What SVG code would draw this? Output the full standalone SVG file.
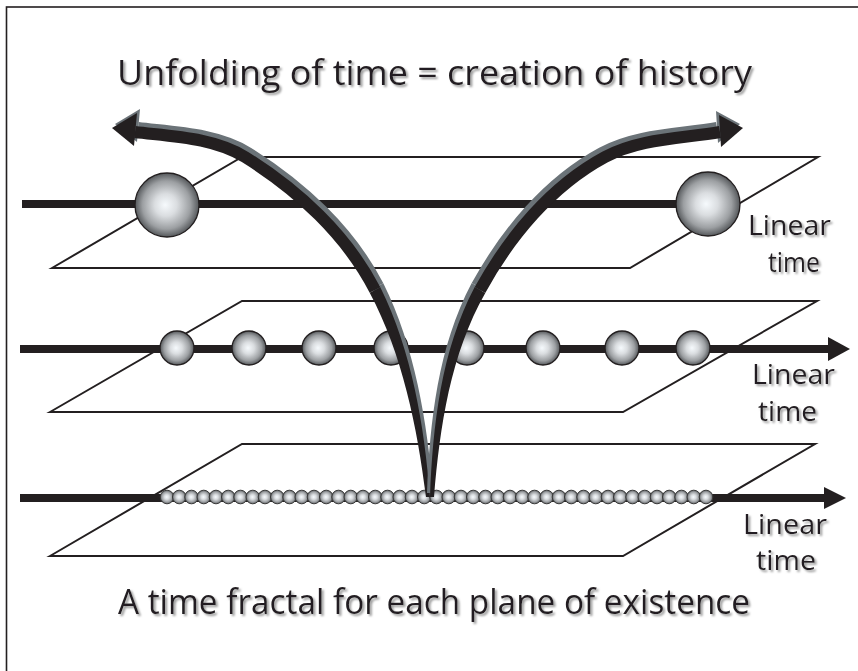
<svg xmlns="http://www.w3.org/2000/svg" width="858" height="671" viewBox="0 0 858 671">
<defs>
<radialGradient id="ball" cx="0.5" cy="0.5" r="0.5" fx="0.47" fy="0.5">
<stop offset="0" stop-color="#f6fafd"/>
<stop offset="0.35" stop-color="#dadde0"/>
<stop offset="0.75" stop-color="#9c9fa2"/>
<stop offset="1" stop-color="#55585b"/>
</radialGradient>
<filter id="sh" x="-5%" y="-30%" width="115%" height="170%">
<feGaussianBlur in="SourceAlpha" stdDeviation="0.8"/>
<feOffset dx="2" dy="2" result="o"/>
<feFlood flood-color="#9a9a9a"/>
<feComposite in2="o" operator="in"/>
<feMerge><feMergeNode/><feMergeNode in="SourceGraphic"/></feMerge>
</filter>
</defs>
<style>
.plane{fill:none;stroke:#231f20;stroke-width:2;stroke-linejoin:miter}
.axis{stroke:#231f20;stroke-width:8;fill:none}
.head{fill:#231f20}
.b{fill:url(#ball);stroke:#231f20;stroke-width:1.3}
.s{fill:url(#ball);stroke:#3a3a3a;stroke-width:1}
.arc{fill:none;stroke:#231f20;stroke-width:12}
.arcg{fill:none;stroke:#6b7378;stroke-width:12}
.hg{fill:#6b7378}
.t{font-family:"Open Sans","Noto Sans",sans-serif;fill:#231f20;filter:url(#sh)}
</style>
<rect x="0" y="0" width="858" height="671" fill="#fff"/>
<rect x="6.5" y="7" width="900" height="700" fill="none" stroke="#231f20" stroke-width="1.6"/>

<g id="planes">
<polygon id="plane1" class="plane" points="52,268 242,157 818,157 630,268"/>
<polygon id="plane2" class="plane" points="50,412 242,301 817,301 623,412"/>
<polygon id="plane3" class="plane" points="50,556 242,444 815,444 623,556"/>
</g>

<g id="connectors">
<line class="axis" x1="22" y1="204" x2="740" y2="204"/>
<line class="axis" x1="20" y1="349" x2="832" y2="349"/>
<polygon class="head" points="850,349 828,337 828,361"/>
<line class="axis" x1="20" y1="498" x2="828" y2="498"/>
<polygon class="head" points="846,498 824,487 824,509"/>
</g>

<g id="balls-top">
<circle class="b" cx="167" cy="205" r="32"/>
<circle class="b" cx="708" cy="204" r="32"/>
</g>

<g id="balls-middle">
<circle class="b" cx="177" cy="348" r="17"/>
<circle class="b" cx="249" cy="348" r="17"/>
<circle class="b" cx="319" cy="348" r="17"/>
<circle class="b" cx="391" cy="348" r="17"/>
<circle class="b" cx="467" cy="348" r="17"/>
<circle class="b" cx="543" cy="348" r="17"/>
<circle class="b" cx="622" cy="348" r="17"/>
<circle class="b" cx="693" cy="348" r="17"/>
</g>

<g id="balls-bottom">
<circle class="s" cx="167" cy="497" r="6.8"/>
<circle class="s" cx="179.25" cy="497" r="6.8"/>
<circle class="s" cx="191.5" cy="497" r="6.8"/>
<circle class="s" cx="203.75" cy="497" r="6.8"/>
<circle class="s" cx="216" cy="497" r="6.8"/>
<circle class="s" cx="228.25" cy="497" r="6.8"/>
<circle class="s" cx="240.5" cy="497" r="6.8"/>
<circle class="s" cx="252.75" cy="497" r="6.8"/>
<circle class="s" cx="265" cy="497" r="6.8"/>
<circle class="s" cx="277.25" cy="497" r="6.8"/>
<circle class="s" cx="289.5" cy="497" r="6.8"/>
<circle class="s" cx="301.75" cy="497" r="6.8"/>
<circle class="s" cx="314" cy="497" r="6.8"/>
<circle class="s" cx="326.25" cy="497" r="6.8"/>
<circle class="s" cx="338.5" cy="497" r="6.8"/>
<circle class="s" cx="350.75" cy="497" r="6.8"/>
<circle class="s" cx="363" cy="497" r="6.8"/>
<circle class="s" cx="375.25" cy="497" r="6.8"/>
<circle class="s" cx="387.5" cy="497" r="6.8"/>
<circle class="s" cx="399.75" cy="497" r="6.8"/>
<circle class="s" cx="412" cy="497" r="6.8"/>
<circle class="s" cx="424.25" cy="497" r="6.8"/>
<circle class="s" cx="436.5" cy="497" r="6.8"/>
<circle class="s" cx="448.75" cy="497" r="6.8"/>
<circle class="s" cx="461" cy="497" r="6.8"/>
<circle class="s" cx="473.25" cy="497" r="6.8"/>
<circle class="s" cx="485.5" cy="497" r="6.8"/>
<circle class="s" cx="497.75" cy="497" r="6.8"/>
<circle class="s" cx="510" cy="497" r="6.8"/>
<circle class="s" cx="522.25" cy="497" r="6.8"/>
<circle class="s" cx="534.5" cy="497" r="6.8"/>
<circle class="s" cx="546.75" cy="497" r="6.8"/>
<circle class="s" cx="559" cy="497" r="6.8"/>
<circle class="s" cx="571.25" cy="497" r="6.8"/>
<circle class="s" cx="583.5" cy="497" r="6.8"/>
<circle class="s" cx="595.75" cy="497" r="6.8"/>
<circle class="s" cx="608" cy="497" r="6.8"/>
<circle class="s" cx="620.25" cy="497" r="6.8"/>
<circle class="s" cx="632.5" cy="497" r="6.8"/>
<circle class="s" cx="644.75" cy="497" r="6.8"/>
<circle class="s" cx="657" cy="497" r="6.8"/>
<circle class="s" cx="669.25" cy="497" r="6.8"/>
<circle class="s" cx="681.5" cy="497" r="6.8"/>
<circle class="s" cx="693.75" cy="497" r="6.8"/>
<circle class="s" cx="706" cy="497" r="6.8"/>
</g>

<g id="arc-left">
<g transform="translate(3,-4)">
<path class="hg" d="M430,497 C424.5,426.5 411.75,350.5 380.3,287.3 L369.7,292.7 C402.25,353.5 417.5,427.5 426,497 Z"/>
<path class="arcg" d="M375,290 C346.6,234.9 297.6,189.7 245,157 C213.6,137.5 171.9,136.4 135,132"/>
<polygon class="hg" points="112,128 137,113 134,146"/>
</g>
<path class="head" d="M430,497 C424.5,426.5 411.75,350.5 380.3,287.3 L369.7,292.7 C402.25,353.5 417.5,427.5 426,497 Z"/>
<path class="arc" d="M375,290 C346.6,234.9 297.6,189.7 245,157 C213.6,137.5 171.9,136.4 135,132"/>
<polygon class="head" points="112,128 137,113 134,146"/>
</g>

<g id="arc-right">
<g transform="translate(-3,-4)">
<path class="hg" d="M430,497 C432.8,425.7 441,350.8 474.7,287.1 L485.3,292.9 C450.6,353.8 439.8,426.3 434,497 Z"/>
<path class="arcg" d="M480,290 C509.4,236.5 551.3,186 605,157 C639.3,138.5 681.3,138.5 720,132"/>
<polygon class="hg" points="743,128 719,115 721,147"/>
</g>
<path class="head" d="M430,497 C432.8,425.7 441,350.8 474.7,287.1 L485.3,292.9 C450.6,353.8 439.8,426.3 434,497 Z"/>
<path class="arc" d="M480,290 C509.4,236.5 551.3,186 605,157 C639.3,138.5 681.3,138.5 720,132"/>
<polygon class="head" points="743,128 719,115 721,147"/>
</g>

<g id="labels">
<text id="title" class="t" x="117" y="85" font-size="34" textLength="635" lengthAdjust="spacingAndGlyphs">Unfolding of time = creation of history</text>
<text id="caption" class="t" x="118" y="614" font-size="34" textLength="632" lengthAdjust="spacingAndGlyphs">A time fractal for each plane of existence</text>
<g id="label1"><text class="t" x="748" y="235" font-size="27" textLength="83" lengthAdjust="spacingAndGlyphs">Linear</text><text class="t" x="768" y="272" font-size="27" textLength="52" lengthAdjust="spacingAndGlyphs">time</text></g>
<g id="label2"><text class="t" x="752" y="384" font-size="27" textLength="83" lengthAdjust="spacingAndGlyphs">Linear</text><text class="t" x="758" y="421" font-size="27" textLength="59" lengthAdjust="spacingAndGlyphs">time</text></g>
<g id="label3"><text class="t" x="743" y="534" font-size="27" textLength="84" lengthAdjust="spacingAndGlyphs">Linear</text><text class="t" x="756" y="570" font-size="27" textLength="60" lengthAdjust="spacingAndGlyphs">time</text></g>
</g>
</svg>
